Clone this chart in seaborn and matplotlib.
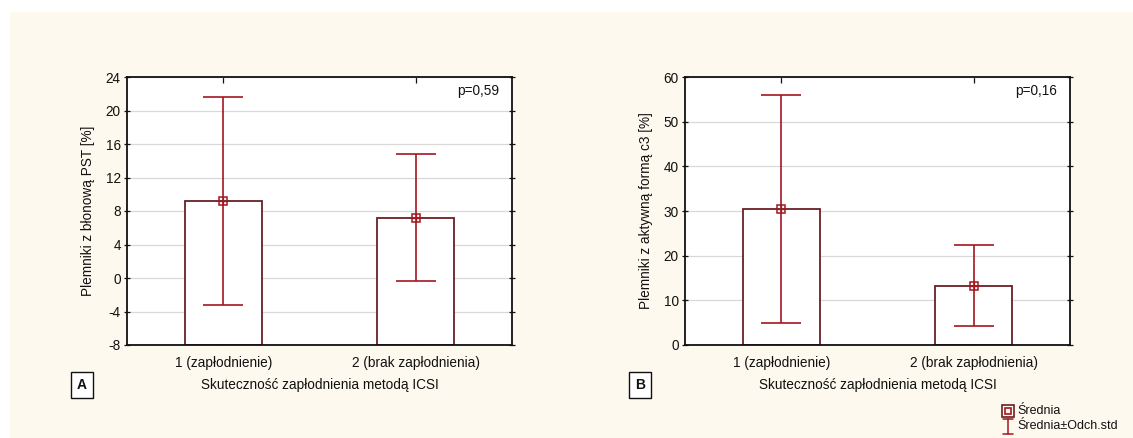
import matplotlib
matplotlib.use("Agg")
import matplotlib.pyplot as plt
from matplotlib.patches import Rectangle
from matplotlib.lines import Line2D
import seaborn as sns
import pandas as pd

# Group labels and summary statistics (mean, standard deviation)
groups = ["1 (zapłodnienie)", "2 (brak zapłodnienia)"]
pst_mean = [9.2, 7.2]
pst_sd = [12.4, 7.6]
c3_mean = [30.4, 13.3]
c3_sd = [25.5, 9.1]

pst_ticks = [-8, -4, 0, 4, 8, 12, 16, 20, 24]
c3_ticks = [0, 10, 20, 30, 40, 50, 60]

xlabel = "Skuteczność zapłodnienia metodą ICSI"
ylabel_a = "Plemniki z błonową PST [%]"
ylabel_b = "Plemniki z aktywną formą c3 [%]"
p_a = "p=0,59"
p_b = "p=0,16"
legend_labels = ["Średnia", "Średnia±Odch.std"]

sns.set_theme(style="white")
plt.rcParams["font.family"] = ["Liberation Sans", "DejaVu Sans"]
plt.rcParams["axes.unicode_minus"] = False
FS = 9.8

CREAM = "#FEF9EE"
BAR_EDGE = "#6B1F24"
ERR = "#A3161F"
INK = "#111111"

fig = plt.figure(figsize=(11.33, 4.38), dpi=100)
fig.patch.set_facecolor("white")
fig.patches.append(Rectangle((10 / 1133, 0), 1, 1 - 12 / 438,
                             transform=fig.transFigure, facecolor=CREAM,
                             edgecolor="none", zorder=-10))


def px(x, y):
    """Pixel position (from top-left) to figure fraction."""
    return x / 1133, 1 - y / 438


def panel(rect, means, sds, ticks, ylabel, ptext, letter, letter_x):
    ax = fig.add_axes(rect)
    ax.set_facecolor("white")
    df = pd.DataFrame({"grupa": groups, "wartosc": means})
    sns.barplot(data=df, x="grupa", y="wartosc", ax=ax, width=0.4,
                color="white", edgecolor=BAR_EDGE, linewidth=1.3,
                errorbar=None, zorder=2)
    # bars rise from the lower edge of the value axis
    ymin = ticks[0]
    for bar, m in zip(ax.patches, means):
        bar.set_y(ymin)
        bar.set_height(m - ymin)
    xs = range(len(groups))
    ax.errorbar(xs, means, yerr=sds, fmt="none", ecolor=ERR,
                elinewidth=1.2, capsize=14.5, capthick=1.2, zorder=3)
    ax.plot(xs, means, ls="none", marker="s", ms=6, mfc="none",
            mec=ERR, mew=1.1, zorder=4)
    ax.plot(xs, means, ls="none", marker="+", ms=6, mec=ERR,
            mew=0.9, zorder=4)
    ax.set_ylim(ticks[0], ticks[-1])
    ax.set_yticks(ticks)
    ax.set_xlim(-0.5, 1.5)
    ax.yaxis.grid(True, color="#D8D8D8", lw=0.9, zorder=0)
    ax.set_axisbelow(True)
    for s in ax.spines.values():
        s.set_color(INK)
        s.set_linewidth(1.3)
    ax.tick_params(axis="y", which="both", left=True, right=True,
                   direction="inout", length=5, width=0.9, color=INK,
                   labelsize=FS, pad=2, labelcolor=INK)
    ax.tick_params(axis="x", bottom=True, top=True, direction="in",
                   length=4, width=0.9, color=INK, labelsize=FS,
                   pad=8, labelcolor=INK)
    ax.set_xlabel(xlabel, fontsize=FS, labelpad=6, color=INK)
    ax.set_ylabel(ylabel, fontsize=FS, labelpad=8, color=INK)
    ax.text(0.966, 0.975, ptext, transform=ax.transAxes, ha="right",
            va="top", fontsize=FS, color=INK)
    fig.text(*px(letter_x, 385), letter, ha="center", va="center",
             fontsize=10, fontweight="bold", color=INK,
             bbox=dict(boxstyle="square,pad=0.4", fc="white",
                       ec=INK, lw=1.0))
    return ax


H = 268 / 438
B0 = (438 - 345) / 438
W = 385 / 1133
panel([127 / 1133, B0, W, H], pst_mean, pst_sd, pst_ticks, ylabel_a, p_a,
      "A", 82)
panel([685 / 1133, B0, W, H], c3_mean, c3_sd, c3_ticks, ylabel_b, p_b,
      "B", 640)

# Legend key in the bottom-right corner
fig.add_artist(Line2D(*zip(px(1008, 411)), ls="none", marker="s", ms=8,
                      mfc="none", mec=BAR_EDGE, mew=1.2))
fig.add_artist(Line2D(*zip(px(1008, 411)), ls="none", marker="s", ms=4,
                      mfc="none", mec=ERR, mew=1.2))
x0, x1 = px(1003, 0)[0], px(1013, 0)[0]
xc = px(1008, 0)[0]
fig.add_artist(Line2D([x0, x1], [px(0, 419)[1]] * 2, color=ERR, lw=1.1))
fig.add_artist(Line2D([x0, x1], [px(0, 434)[1]] * 2, color=ERR, lw=1.1))
fig.add_artist(Line2D([xc, xc], [px(0, 419)[1], px(0, 434)[1]],
                      color=ERR, lw=1.1))
fig.text(*px(1017, 411), legend_labels[0], ha="left", va="center",
         fontsize=9, color=INK)
fig.text(*px(1017, 426), legend_labels[1], ha="left", va="center",
         fontsize=9, color=INK)

fig.savefig("out.png", dpi=100, facecolor=fig.get_facecolor())
